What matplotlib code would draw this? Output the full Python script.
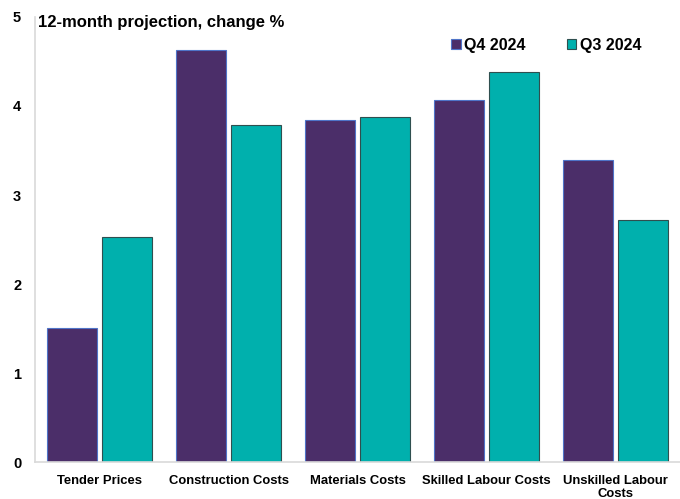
import numpy as np
import matplotlib
matplotlib.use('Agg')
import matplotlib.pyplot as plt

plt.rcParams['font.family'] = ['Liberation Sans', 'DejaVu Sans']

categories = ['Tender Prices', 'Construction Costs', 'Materials Costs',
              'Skilled Labour Costs', 'Unskilled Labour\nCosts']
q4_2024 = [1.51, 4.63, 3.84, 4.07, 3.39]
q3_2024 = [2.53, 3.79, 3.88, 4.38, 2.72]

fig = plt.figure(figsize=(6.8, 4.99), dpi=100)
ax = fig.add_axes([0.0515, 0.074, 0.9485, 0.892])

x = np.arange(len(categories))
w = 0.39
ax.bar(x - w/2 - 0.02, q4_2024, w, color='#4B2E69', edgecolor='#4F74C8', linewidth=0.8, label='Q4 2024')
ax.bar(x + w/2 + 0.02, q3_2024, w, color='#00B0AD', edgecolor='#2F4F4F', linewidth=0.8, label='Q3 2024')

ax.set_xlim(-0.5, len(categories) - 0.5)
ax.set_ylim(0, 5)
ax.set_yticks(range(6))
ax.set_xticks(x)
ax.set_xticklabels(categories, fontsize=9.4, fontweight='bold', va='top')
ax.tick_params(axis='y', length=0, labelsize=10.5, pad=10)
ax.tick_params(axis='x', length=0, pad=9)
for t in ax.get_yticklabels():
    t.set_fontweight('bold')
for s in ['top', 'right']:
    ax.spines[s].set_visible(False)
for s in ['left', 'bottom']:
    ax.spines[s].set_color('#D9D9D9')
    ax.spines[s].set_linewidth(1.2)

fig.text(0.056, 0.955, '12-month projection, change %', fontsize=12, fontweight='bold', va='center')
ax.legend(loc='upper right', bbox_to_anchor=(0.962, 0.985), ncol=2, frameon=False,
          prop={'weight': 'bold', 'size': 11.5}, handlelength=0.6, handleheight=0.6,
          handletextpad=0.2, columnspacing=2.6)

fig.savefig('out.png', dpi=100)
plt.close(fig)
